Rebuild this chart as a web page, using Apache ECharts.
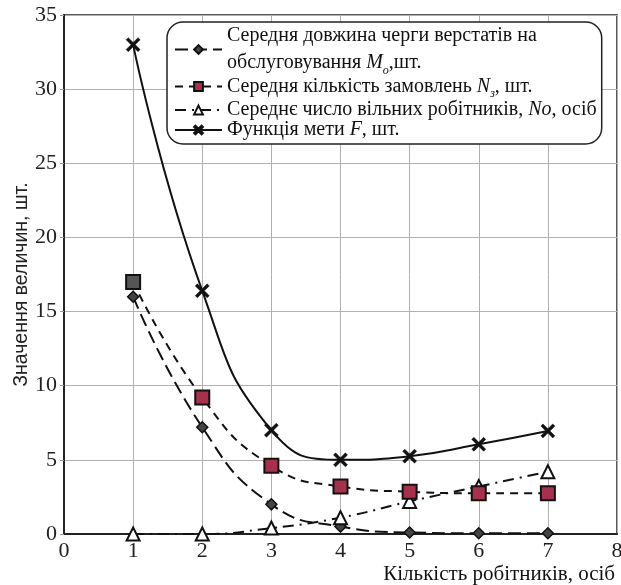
<!DOCTYPE html>
<html><head><meta charset="utf-8">
<script src="https://cdn.jsdelivr.net/npm/echarts@6/dist/echarts.min.js"></script>
<style>html,body{margin:0;padding:0;background:#fff}#c{width:621px;height:585px}</style>
</head><body><div id="c"></div>
<script>
const workers = [1, 2, 3, 4, 5, 6, 7];
const queueM = [16, 7.2, 2.0, 0.5, 0.1, 0.05, 0.05];
const ordersN = [17, 9.2, 4.6, 3.2, 2.85, 2.75, 2.75];
const freeNo = [0, 0, 0.4, 1.1, 2.2, 3.2, 4.2];
const goalF = [33, 16.4, 7.0, 5.0, 5.25, 6.05, 6.95];
const xTicks = [0, 8, 1];
const yTicks = [0, 35, 5];
const names = ['M', 'N', 'No', 'F'];

const pair = (arr) => workers.map((w, i) => [w, arr[i]]);
const serif = 'Liberation Serif';
const crossPath = 'path://M1.5,0L5,3.5L8.5,0L10,1.5L6.5,5L10,8.5L8.5,10L5,6.5L1.5,10L0,8.5L3.5,5L0,1.5Z';

const legendText = {
  M: '{t|Середня довжина черги верстатів на}\n{t|обслуговування }{i|M}{s|о}{t|,шт.}',
  N: '{t|Середня кількість замовлень }{i|N}{s|з}{t|, шт.}',
  No: '{t|Середнє число вільних робітників, }{i|No}{t|, осіб}',
  F: '{t|Функція мети }{i|F}{t|, шт.}'
};

const chart = echarts.init(document.getElementById('c'), null, {renderer: 'canvas'});
chart.setOption({
  animation: false,
  grid: {left: 64, right: 4, top: 15, bottom: 51, show: true, borderColor: '#222', borderWidth: 1.5,
         containLabel: false, outerBoundsMode: 'none'},
  legend: {
    orient: 'vertical', left: 167, top: 22,
    data: names,
    itemWidth: 47, itemHeight: 11, itemGap: 0,
    padding: [4, 5, 4, 7],
    backgroundColor: '#fff', borderColor: '#222', borderWidth: 1.5, borderRadius: 16,
    formatter: (n) => legendText[n],
    textStyle: {
      fontFamily: serif, fontSize: 20, color: '#111',
      rich: {
        t: {fontFamily: serif, fontSize: 20, color: '#111', lineHeight: 27},
        i: {fontFamily: serif, fontSize: 20, fontStyle: 'italic', color: '#111', lineHeight: 27},
        s: {fontFamily: serif, fontSize: 12, fontStyle: 'italic', color: '#111', verticalAlign: 'bottom', lineHeight: 23}
      }
    }
  },
  xAxis: {
    type: 'value', min: xTicks[0], max: xTicks[1], interval: xTicks[2],
    name: 'Кількість робітників, осіб', nameLocation: 'end', nameGap: -2, nameMoveOverlap: false,
    nameTextStyle: {fontFamily: serif, fontSize: 21, color: '#111', align: 'right', verticalAlign: 'top', padding: [30, 0, 0, 0]},
    axisLine: {show: true, lineStyle: {color: '#222', width: 2}},
    axisTick: {show: false},
    axisLabel: {fontFamily: serif, fontSize: 22, color: '#222', margin: 6},
    splitLine: {show: true, lineStyle: {color: '#b0b0b0', width: 1}}
  },
  yAxis: {
    type: 'value', min: yTicks[0], max: yTicks[1], interval: yTicks[2],
    name: 'Значення величин, шт.', nameLocation: 'middle', nameGap: 32, nameMoveOverlap: false,
    nameTextStyle: {fontFamily: 'Liberation Sans', fontSize: 19.5, color: '#222', padding: [0, 20, 0, 0]},
    axisLine: {show: true, lineStyle: {color: '#222', width: 2}},
    axisTick: {show: true, length: 4, lineStyle: {color: '#999'}},
    axisLabel: {fontFamily: serif, fontSize: 22, color: '#222', margin: 7},
    splitLine: {show: true, lineStyle: {color: '#b0b0b0', width: 1}}
  },
  series: [
    {
      name: 'M', type: 'line', data: pair(queueM), smooth: true,
      symbol: 'diamond', symbolSize: 11,
      lineStyle: {color: '#111', width: 2, type: [13, 6]},
      itemStyle: {color: '#444', borderColor: '#111', borderWidth: 1.5},
      z: 3
    },
    {
      name: 'N', type: 'line', smooth: true,
      data: pair(ordersN).map((p, i) => i === 0 ? {value: p, itemStyle: {color: '#555'}} : p),
      symbol: 'rect', symbolSize: 14,
      lineStyle: {color: '#111', width: 2, type: [8, 6]},
      itemStyle: {color: '#a8304c', borderColor: '#111', borderWidth: 2},
      z: 4
    },
    {
      name: 'No', type: 'line', data: pair(freeNo), smooth: true,
      symbol: 'triangle', symbolSize: 13,
      lineStyle: {color: '#111', width: 2, type: [11, 6, 2, 6]},
      itemStyle: {color: '#fff', borderColor: '#111', borderWidth: 2},
      z: 3
    },
    {
      name: 'F', type: 'line', data: pair(goalF), smooth: true,
      symbol: crossPath, symbolSize: 14,
      lineStyle: {color: '#111', width: 2},
      itemStyle: {color: '#111', borderColor: '#111', borderWidth: 0.5},
      z: 5
    }
  ]
});
</script></body></html>
